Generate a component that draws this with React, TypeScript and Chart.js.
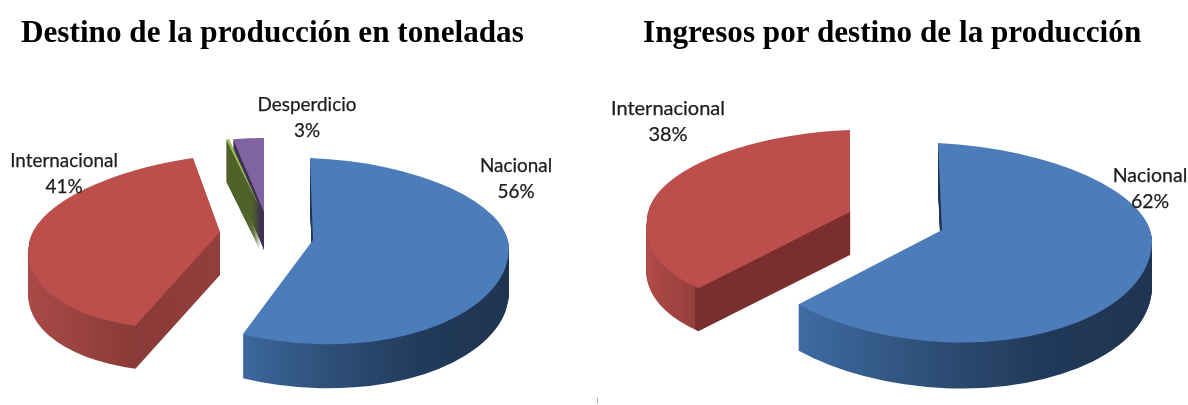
import React, { useEffect, useRef } from "react";
import { Chart, registerables } from "chart.js";

Chart.register(...registerables);

const leftCategories = ["Nacional", "Internacional", "", "Desperdicio"];
const leftValues = [56, 41, 0.3, 3];
const rightCategories = ["Nacional", "Internacional"];
const rightValues = [62, 38];

const titleLeft = "Destino de la producción en toneladas";
const titleRight = "Ingresos por destino de la producción";

const BLUE = "#4c7cb9";
const RED = "#bc4f4b";
const GREEN = "#9bbb59";
const PURPLE = "#8064a2";

type Slice = {
  ax: number; ay: number; rx: number; up: number; down: number; depth: number;
  kUp: number; kDown: number; m: number;
  stops: [number, string][];
  patch?: [number, number, number, number, string];
};

const leftSlices: Slice[] = [
  { ax: 313, ay: 240, rx: 196, up: 82, down: 104, depth: 44, kUp: 0.037, kDown: 0, m: 0.04,
    stops: [[243, "#3c689c"], [330, "#2e4f78"], [420, "#213b5b"], [510, "#1f3450"]],
    patch: [300, 150, 22, 135, "#1f3450"] },
  { ax: 220, ay: 232, rx: 191, up: 78, down: 96, depth: 43, kUp: -0.16, kDown: -0.18, m: -0.06,
    stops: [[29, "#a94a47"], [135, "#8a3a38"], [220, "#933e3c"]] },
  { ax: 260, ay: 208, rx: 165, up: 70, down: 70, depth: 42, kUp: 0, kDown: 0, m: 0,
    stops: [[220, "#4f6228"], [265, "#4f6228"]] },
  { ax: 264, ay: 212, rx: 165, up: 74, down: 74, depth: 38, kUp: 0, kDown: 0, m: 0,
    stops: [[220, "#3f3151"], [270, "#3f3151"]] },
];

const rightSlices: Slice[] = [
  { ax: 942, ay: 230, rx: 210, up: 87, down: 112, depth: 46, kUp: 0.045, kDown: 0, m: 0.05,
    stops: [[795, "#3f6ca3"], [940, "#2d4d75"], [1040, "#213a59"], [1152, "#1f3452"]],
    patch: [930, 135, 22, 145, "#1f3452"] },
  { ax: 850, ay: 212, rx: 203, up: 82, down: 97, depth: 43, kUp: 0, kDown: -0.18, m: -0.04,
    stops: [[647, "#b04b48"], [694.9, "#953f3c"], [695, "#7a2e2d"], [850, "#7a2e2d"]] },
];

function placed(ctx: any, el: any, s: Slice, shift: number) {
  const R = el.outerRadius;
  const ay = s.ay + shift;
  const sx = s.rx / R;
  const W = ctx.canvas.width;
  const H = ctx.canvas.height;
  const half = (top: boolean) => {
    const sy = (top ? s.up : s.down) / R;
    const k = top ? s.kUp : s.kDown;
    // the seam between the two halves follows the tilt m through the apex;
    // the lower half runs a little under the upper one so that no hairline shows
    const lift = top ? 0 : 1.5;
    const yL = ay - s.m * s.ax - lift;
    const yR = ay + s.m * (W - s.ax) - lift;
    ctx.save();
    ctx.beginPath();
    ctx.moveTo(0, yL);
    ctx.lineTo(W, yR);
    if (top) { ctx.lineTo(W, 0); ctx.lineTo(0, 0); }
    else { ctx.lineTo(W, H); ctx.lineTo(0, H); }
    ctx.closePath();
    ctx.clip();
    const c = k * sy;
    const b = s.m * sx;
    ctx.transform(sx, b, c, sy, s.ax - sx * el.x - c * el.y, ay - b * el.x - sy * el.y);
    el.draw(ctx);
    ctx.restore();
  };
  half(false);
  half(true);
}

const pie3d = (originX: number, slices: Slice[]) => ({
  id: "pie3d",
  beforeDatasetDraw(chart: any) {
    const ctx = chart.ctx;
    const arcs = chart.getDatasetMeta(0).data;
    for (let i = arcs.length - 1; i >= 0; i--) {
      const el = arcs[i];
      const s = { ...slices[i], ax: slices[i].ax - originX };
      const off = document.createElement("canvas");
      off.width = ctx.canvas.width;
      off.height = ctx.canvas.height;
      const o: any = off.getContext("2d");
      for (let d = s.depth; d >= 1; d--) placed(o, el, s, d);
      o.globalCompositeOperation = "source-in";
      const first = s.stops[0][0];
      const last = s.stops[s.stops.length - 1][0];
      const g = o.createLinearGradient(first - originX, 0, last - originX, 0);
      s.stops.forEach(([x, c]) => g.addColorStop((x - first) / (last - first), c));
      o.fillStyle = g;
      o.fillRect(0, 0, off.width, off.height);
      if (s.patch) {
        o.globalCompositeOperation = "source-atop";
        o.fillStyle = s.patch[4];
        o.fillRect(s.patch[0] - originX, s.patch[1], s.patch[2], s.patch[3]);
      }
      ctx.drawImage(off, 0, 0);
      placed(ctx, el, s, 0);
    }
    return false;
  },
});

function makeChart(canvas: HTMLCanvasElement, labels: string[], values: number[], colors: string[], originX: number, slices: Slice[]) {
  return new Chart(canvas, {
    type: "pie",
    data: { labels, datasets: [{ data: values, backgroundColor: colors, borderWidth: 0 }] },
    options: {
      responsive: false,
      animation: false,
      plugins: { legend: { display: false }, tooltip: { enabled: false }, title: { display: false } },
    },
    plugins: [pie3d(originX, slices)],
  } as any);
}

const titleStyle = (left: number): React.CSSProperties => ({
  position: "absolute", left, top: 14, font: "bold 31.2px 'Liberation Serif'", color: "#000", whiteSpace: "nowrap",
});
const labelStyle = (cx: number, top: number, size: number): React.CSSProperties => ({
  position: "absolute", left: cx - 80, width: 160, top, textAlign: "center",
  font: `${size}px/26px Lato`, color: "#1c1c1c", WebkitTextStroke: "0.25px #1c1c1c",
});

function Label({ cx, top, a, b, size = 18.9 }: { cx: number; top: number; a: string; b: string; size?: number }) {
  return <div style={labelStyle(cx, top, size)}>{a}<br />{b}</div>;
}

export default function App() {
  const l = useRef<HTMLCanvasElement>(null);
  const r = useRef<HTMLCanvasElement>(null);
  useEffect(() => {
    document.body.style.margin = "0";
    const a = makeChart(l.current!, leftCategories, leftValues, [BLUE, RED, GREEN, PURPLE], 0, leftSlices);
    const b = makeChart(r.current!, rightCategories, rightValues, [BLUE, RED], 594, rightSlices);
    return () => { a.destroy(); b.destroy(); };
  }, []);
  return (
    <div style={{ position: "fixed", left: 0, top: 0, width: 1188, height: 405, background: "#fff", overflow: "hidden" }}>
      <canvas ref={l} width={594} height={405} style={{ position: "absolute", left: 0, top: 0 }} />
      <canvas ref={r} width={594} height={405} style={{ position: "absolute", left: 594, top: 0 }} />
      <div style={titleStyle(21)}>{titleLeft}</div>
      <div style={titleStyle(643)}>{titleRight}</div>
      <Label cx={64} top={147} a="Internacional" b="41%" />
      <Label cx={307} top={91} a="Desperdicio" b="3%" />
      <Label cx={516} top={152} a="Nacional" b="56%" />
      <Label cx={668} top={94} a="Internacional" b="38%" size={20} />
      <Label cx={1150} top={162} a="Nacional" b="62%" size={19.5} />
      <div style={{ position: "absolute", left: 597, top: 397, width: 1, height: 7, background: "#bbb" }} />
    </div>
  );
}
